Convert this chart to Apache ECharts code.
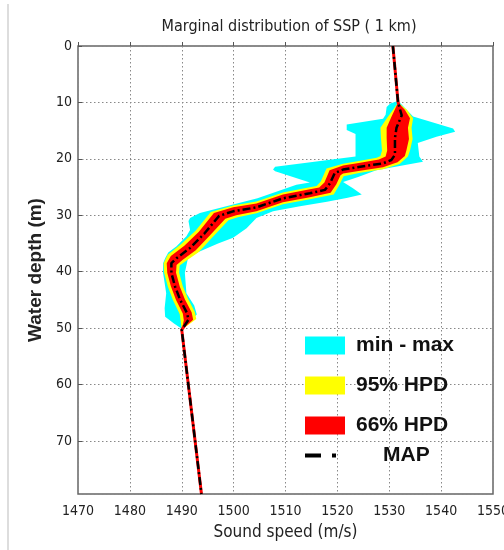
<!DOCTYPE html>
<html>
<head>
<meta charset="utf-8">
<title>Marginal distribution of SSP</title>
<script src="https://cdn.jsdelivr.net/npm/echarts@6/dist/echarts.min.js"></script>
<style>
  html, body { margin: 0; padding: 0; background: #fff; }
  #chart { width: 504px; height: 550px; }
</style>
</head>
<body>
<div id="chart"></div>
<script>
// axes
const speedMin = 1470, speedMax = 1550, speedStep = 10;
const depthMin = 0, depthMax = 79.4, depthStep = 10;

// MAP profile: [sound speed (m/s), depth (m)]
const mapProfile = [
  [1530.7, 0], [1531.7, 10], [1532.4, 12.3], [1531.4, 14.5], [1531.1, 16.3],
  [1531.1, 19.3], [1530.4, 20.2], [1528.8, 20.8], [1524.4, 21.4], [1521.1, 21.9],
  [1519.5, 22.5], [1518.6, 24.3], [1517.6, 25.5], [1514.7, 26.1], [1509.5, 27.0],
  [1504.4, 28.6], [1499.9, 29.3], [1497.2, 30.1], [1494.4, 33.2], [1491.6, 35.8],
  [1489.0, 37.6], [1488.0, 38.5], [1488.0, 40.2], [1488.7, 42.6], [1489.7, 45.0],
  [1491.0, 47.3], [1491.3, 48.5], [1490.0, 50.3], [1493.8, 79.4]
];

// min - max envelope (left edge top->bottom, right edge bottom->top)
const minMaxLeft = [
  [1531.5, 9.8], [1530.2, 10.2], [1529.5, 10.8], [1529.3, 12.2], [1528.8, 12.9],
  [1521.8, 13.9], [1521.8, 14.9], [1523.5, 15.6], [1523.5, 19.6], [1508.0, 21.4],
  [1507.6, 21.9], [1508.0, 22.2], [1514.7, 24.2], [1512.1, 24.6], [1504.6, 27.0],
  [1493.5, 29.6], [1491.6, 30.5], [1491.3, 31.0], [1491.6, 32.6], [1490.9, 33.7],
  [1489.0, 35.5], [1487.4, 36.6], [1486.8, 37.6], [1486.4, 38.5], [1486.4, 40.2],
  [1487.0, 43.8], [1486.7, 46.5], [1486.8, 48.0], [1488.5, 49.2], [1490.0, 50.1]
];
const minMaxRight = [
  [1490.0, 50.1], [1491.6, 48.8], [1492.9, 47.6], [1492.4, 46.0], [1490.9, 43.8],
  [1490.6, 40.2], [1491.2, 37.6], [1493.0, 36.6], [1497.0, 35.0], [1499.9, 34.0],
  [1502.5, 32.3], [1504.4, 30.5], [1507.6, 29.3], [1512.8, 28.4], [1518.0, 27.6],
  [1522.0, 26.9], [1524.7, 26.3], [1523.0, 25.2], [1521.1, 24.1], [1524.0, 23.2],
  [1527.5, 22.0], [1536.5, 20.5], [1535.8, 19.6], [1535.5, 17.2], [1539.1, 16.1],
  [1542.7, 15.2], [1542.3, 14.6], [1534.6, 12.5], [1532.7, 10.7], [1532.1, 10.1],
  [1531.5, 9.8]
];

// 95% HPD
const hpd95Left = [
  [1531.7, 10.0], [1530.5, 11.6], [1529.7, 12.6], [1528.3, 14.5], [1528.4, 16.3],
  [1528.6, 18.5], [1528.3, 19.5], [1527.6, 19.8], [1524.4, 20.35], [1521.1, 20.85],
  [1517.9, 21.7], [1516.8, 24.0], [1516.0, 24.8], [1514.7, 25.05], [1509.5, 25.95],
  [1504.4, 27.55], [1499.9, 28.25], [1495.6, 29.4], [1492.7, 32.7], [1489.9, 35.1],
  [1487.3, 37.0], [1486.5, 38.5], [1486.6, 40.2], [1487.3, 42.6], [1488.3, 45.0],
  [1489.6, 47.5], [1489.8, 48.8], [1490.0, 50.3]
];
const hpd95Right = [
  [1490.0, 50.3], [1492.8, 48.4], [1492.5, 47.1], [1491.2, 44.8], [1490.2, 42.6],
  [1489.5, 40.2], [1489.6, 38.9], [1490.8, 38.1], [1493.3, 36.5], [1496.1, 33.7],
  [1499.0, 30.9], [1500.8, 30.35], [1504.4, 29.65], [1509.5, 28.05], [1514.7, 27.15],
  [1519.3, 26.3], [1520.4, 24.6], [1521.2, 23.1], [1524.4, 22.45], [1528.8, 21.85],
  [1532.0, 20.9], [1533.6, 19.6], [1534.0, 18.5], [1534.5, 16.5], [1534.3, 14.5],
  [1534.6, 12.8], [1533.4, 11.3], [1531.7, 10.0]
];

// 66% HPD
const hpd66Left = [
  [1531.7, 10.0], [1530.9, 11.6], [1530.4, 12.6], [1529.5, 14.5], [1529.5, 16.3],
  [1529.6, 18.5], [1529.3, 19.6], [1528.0, 20.1], [1524.4, 20.7], [1521.1, 21.2],
  [1518.5, 22.0], [1517.5, 24.2], [1516.5, 25.1], [1514.7, 25.4], [1509.5, 26.3],
  [1504.4, 27.9], [1499.9, 28.6], [1496.2, 29.6], [1493.3, 32.9], [1490.5, 35.4],
  [1487.9, 37.2], [1487.1, 38.5], [1487.2, 40.2], [1487.9, 42.6], [1488.9, 45.0],
  [1490.2, 47.4], [1490.4, 48.6], [1490.0, 50.3]
];
const hpd66Right = [
  [1490.0, 50.3], [1492.2, 48.5], [1491.9, 47.2], [1490.6, 44.9], [1489.6, 42.6],
  [1488.9, 40.2], [1489.0, 38.8], [1490.2, 37.9], [1492.7, 36.2], [1495.5, 33.5],
  [1498.4, 30.6], [1500.5, 30.0], [1504.4, 29.3], [1509.5, 27.7], [1514.7, 26.8],
  [1518.7, 26.0], [1519.8, 24.5], [1520.6, 22.9], [1521.1, 22.6], [1524.4, 22.1],
  [1528.8, 21.5], [1531.6, 20.6], [1533.0, 19.5], [1533.3, 18.5], [1533.8, 16.5],
  [1533.6, 14.5], [1534.0, 12.8], [1533.0, 11.3], [1531.7, 10.0]
];

const narrow = "'Liberation Sans Narrow', 'DejaVu Sans Condensed', 'Liberation Sans', sans-serif";
const wide = "'Liberation Sans', Arial, sans-serif";

// polygon band drawn through the axis scales
function bandSeries(name, color, left, right, z) {
  const pts = left.concat(right);
  return {
    name: name,
    type: 'custom',
    coordinateSystem: 'cartesian2d',
    itemStyle: { color: color },
    data: pts,
    encode: { x: 0, y: 1 },
    silent: true,
    z: z,
    renderItem: function (params, api) {
      if (params.dataIndex !== 0) return null;
      return {
        type: 'polygon',
        shape: { points: pts.map(p => api.coord(p)) },
        style: { fill: color }
      };
    }
  };
}

const chart = echarts.init(document.getElementById('chart'), null, { renderer: 'canvas' });
chart.setOption({
  animation: false,
  backgroundColor: '#fff',
  title: {
    text: 'Marginal distribution of SSP ( 1 km)',
    left: 284, top: 14, textAlign: 'center',
    textStyle: { fontFamily: narrow, fontSize: 16, fontWeight: 'normal', color: '#222' }
  },
  grid: {
    left: 78, right: 11, top: 46, bottom: 56,
    containLabel: false, outerBoundsMode: 'none',
    show: true, borderColor: '#666', borderWidth: 1.5, backgroundColor: 'transparent'
  },
  xAxis: {
    type: 'value', min: speedMin, max: speedMax, interval: speedStep,
    name: 'Sound speed (m/s)', nameLocation: 'middle', nameGap: 30,
    nameTextStyle: { fontFamily: narrow, fontSize: 17, color: '#222' },
    axisLine: { show: false },
    axisTick: { show: true, inside: true, length: 4, lineStyle: { color: '#555' } },
    axisLabel: { margin: 10, fontFamily: narrow, fontSize: 14, color: '#222', formatter: v => String(v) },
    splitLine: { show: true, lineStyle: { color: '#888', type: [1.5, 2.5], width: 1 } }
  },
  yAxis: {
    type: 'value', min: depthMin, max: depthMax, interval: depthStep, inverse: true,
    name: 'Water depth (m)', nameLocation: 'middle', nameGap: 27, nameRotate: 90,
    nameTextStyle: { fontFamily: wide, fontSize: 19, fontWeight: 'bold', color: '#222' },
    axisLine: { show: false },
    axisTick: { show: true, inside: true, length: 4, lineStyle: { color: '#555' } },
    axisLabel: { margin: 6, fontFamily: narrow, fontSize: 14, color: '#222', showMaxLabel: false, formatter: v => String(v) },
    splitLine: { show: true, lineStyle: { color: '#888', type: [1.5, 2.5], width: 1 } }
  },
  legend: [
    {
      data: [
        { name: 'min - max', icon: 'rect' },
        { name: '95% HPD', icon: 'rect' },
        { name: '66% HPD', icon: 'rect' }
      ],
      orient: 'vertical', left: 305, top: 335, padding: 0,
      itemWidth: 40, itemHeight: 18, itemGap: 19,
      selectedMode: false,
      textStyle: { fontFamily: wide, fontSize: 21, fontWeight: 'bold', color: '#111', lineHeight: 18, padding: [0, 0, 0, 6] }
    },
    {
      data: [{ name: 'MAP', icon: 'path://M0,0h16v4h-16zM27,0h4v4h-4z' }],
      orient: 'vertical', left: 305, top: 445, padding: 0,
      itemWidth: 31, itemHeight: 4,
      selectedMode: false,
      textStyle: { fontFamily: wide, fontSize: 21, fontWeight: 'bold', color: '#111', lineHeight: 18, padding: [0, 0, 0, 42] }
    }
  ],
  graphic: [
    { type: 'line', shape: { x1: 8, y1: 4, x2: 8, y2: 550 }, style: { stroke: '#ddd', lineWidth: 2 }, silent: true }
  ],
  series: [
    bandSeries('min - max', '#00ffff', minMaxLeft, minMaxRight, 1),
    bandSeries('95% HPD', '#ffff00', hpd95Left, hpd95Right, 2),
    bandSeries('66% HPD', '#ff0000', hpd66Left, hpd66Right, 3),
    {
      name: 'map-under', type: 'line', data: mapProfile, showSymbol: false, silent: true, z: 4,
      lineStyle: { color: '#ff0000', width: 3 }, itemStyle: { color: '#ff0000' }
    },
    {
      name: 'MAP', type: 'line', data: mapProfile, showSymbol: false, silent: true, z: 5,
      lineStyle: { color: '#000', width: 2.5, type: [8, 3, 2, 3] }, itemStyle: { color: '#000' }
    }
  ]
});
</script>
</body>
</html>
